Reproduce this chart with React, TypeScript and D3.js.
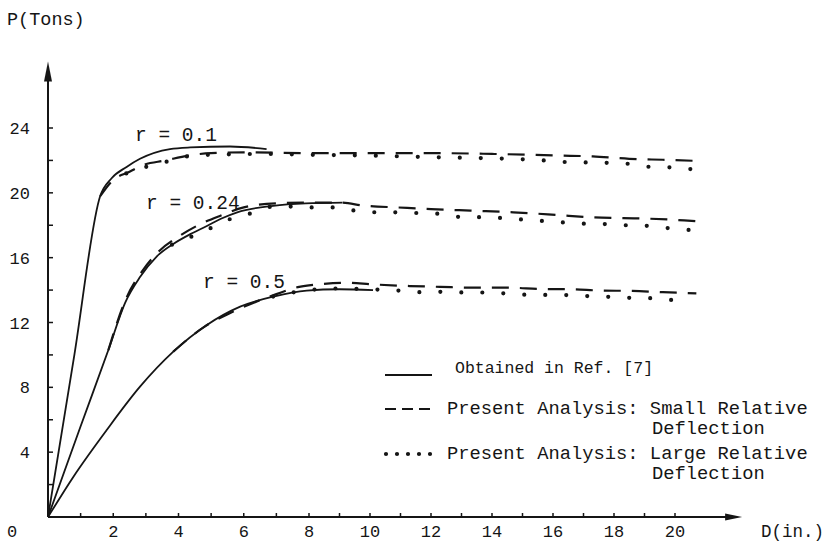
import * as d3 from 'd3'

const W = 831
const H = 541
const FONT = '"Liberation Mono", "DejaVu Sans Mono", monospace'
const INK = '#151515'

// r = 0.1
const R01_REF_D = [0, 0.8, 1.6, 1.95, 2.41, 2.82, 3.74, 4.36, 5.58, 6.7]
const R01_REF_P = [0, 9.9, 19.8, 20.9, 21.6, 22.1, 22.7, 22.8, 22.86, 22.7]
const R01_SMALL_D = [1.6, 2.0, 2.5, 2.9, 3.6, 4.3, 5.0, 6.0, 8.0, 10.0, 12.0, 14.0, 15.2, 16.2, 17.3, 18.5, 19.6, 20.75]
const R01_SMALL_P = [19.8, 20.8, 21.3, 21.7, 22.0, 22.3, 22.45, 22.5, 22.45, 22.45, 22.45, 22.4, 22.35, 22.3, 22.25, 22.1, 22.04, 21.97]
const R01_LARGE_D = [2.4, 3.0, 3.6, 4.1, 5.0, 6.7, 8.0, 10.0, 12.0, 14.5, 15.7, 16.4, 17.3, 18.4, 19.2, 20.0, 20.75]
const R01_LARGE_P = [21.2, 21.6, 21.9, 22.2, 22.35, 22.4, 22.35, 22.3, 22.2, 22.1, 22.0, 21.9, 21.87, 21.8, 21.6, 21.56, 21.4]

// r = 0.24
const R024_REF_D = [0, 1.0, 1.85, 2.36, 2.82, 3.33, 3.84, 4.36, 4.87, 5.3, 5.8, 6.9, 7.9, 9.1]
const R024_REF_P = [0, 5.6, 10.3, 13.2, 14.8, 16.07, 16.85, 17.45, 17.95, 18.4, 18.8, 19.2, 19.35, 19.4]
const R024_SMALL_D = [1.85, 2.4, 2.9, 3.4, 4.0, 4.7, 5.3, 6.0, 7.0, 8.0, 9.0, 9.85, 10.9, 12.0, 13.3, 14.7, 16.1, 17.2, 18.3, 19.2, 20.3, 20.7]
const R024_SMALL_P = [10.3, 13.5, 15.2, 16.4, 17.3, 18.1, 18.6, 19.1, 19.35, 19.4, 19.4, 19.2, 19.1, 19.0, 18.9, 18.8, 18.64, 18.5, 18.44, 18.4, 18.3, 18.25]
const R024_LARGE_D = [3.8, 4.4, 5.07, 5.74, 6.25, 6.9, 7.5, 8.0, 8.9, 9.5, 10.2, 10.9, 11.6, 12.3, 13.05, 13.8, 14.6, 15.4, 16.1, 17.0, 17.7, 18.4, 19.1, 19.9, 20.5]
const R024_LARGE_P = [16.8, 17.3, 17.9, 18.5, 18.75, 19.15, 19.15, 19.1, 19.1, 18.9, 18.8, 18.8, 18.75, 18.7, 18.5, 18.5, 18.4, 18.3, 18.2, 18.1, 18.07, 18.0, 17.96, 17.8, 17.7]

// r = 0.5
const R05_REF_D = [0, 0.78, 1.8, 2.82, 3.84, 4.87, 5.89, 6.91, 7.93, 9.0, 10.1]
const R05_REF_P = [0, 2.49, 5.37, 8.04, 10.2, 11.85, 12.98, 13.6, 13.97, 14.05, 14.0]
const R05_SMALL_D = [3.84, 4.8, 5.6, 6.4, 7.0, 7.7, 8.3, 9.2, 10.1, 11.3, 12.3, 13.4, 14.5, 15.6, 16.6, 17.6, 18.6, 19.6, 20.7]
const R05_SMALL_P = [10.2, 11.75, 12.6, 13.3, 13.75, 14.2, 14.35, 14.45, 14.35, 14.25, 14.2, 14.15, 14.15, 14.07, 14.05, 13.97, 13.95, 13.87, 13.8]
const R05_LARGE_D = [6.9, 8.0, 9.0, 10.0, 10.6, 11.1, 11.9, 12.4, 13.1, 13.85, 14.6, 15.4, 16.2, 17.0, 17.5, 18.2, 18.75, 19.2, 19.6, 20.1, 20.5]
const R05_LARGE_P = [13.6, 14.0, 14.1, 14.05, 14.0, 13.95, 13.85, 13.9, 13.85, 13.85, 13.77, 13.7, 13.7, 13.64, 13.6, 13.56, 13.5, 13.5, 13.44, 13.35, 13.3]

const CURVE_LABELS = ['r = 0.1', 'r = 0.24', 'r = 0.5']
const LEGEND_LABELS = [
  ['Obtained in Ref. [7]'],
  ['Present Analysis: Small Relative', 'Deflection'],
  ['Present Analysis: Large Relative', 'Deflection'],
]
const X_LABELS = [2, 4, 6, 8, 10, 12, 14, 16, 18, 20]
const Y_LABELS = [4, 8, 12, 16, 20, 24]
const X_TICKS = d3.range(1, 21)
const Y_TICKS = d3.range(2, 25, 2)

const zip = (ds: number[], ps: number[]) => ds.map((d, i) => [d, ps[i]] as [number, number])

const SERIES = [
  { kind: 'ref', pts: zip(R01_REF_D, R01_REF_P) },
  { kind: 'small', pts: zip(R01_SMALL_D, R01_SMALL_P) },
  { kind: 'large', pts: zip(R01_LARGE_D, R01_LARGE_P) },
  { kind: 'ref', pts: zip(R024_REF_D, R024_REF_P) },
  { kind: 'small', pts: zip(R024_SMALL_D, R024_SMALL_P) },
  { kind: 'large', pts: zip(R024_LARGE_D, R024_LARGE_P) },
  { kind: 'ref', pts: zip(R05_REF_D, R05_REF_P) },
  { kind: 'small', pts: zip(R05_SMALL_D, R05_SMALL_P) },
  { kind: 'large', pts: zip(R05_LARGE_D, R05_LARGE_P) },
]

const STYLE: Record<string, any> = {
  ref: { strokeWidth: 1.8 },
  small: { strokeWidth: 2.2, strokeDasharray: '17 11' },
  large: { strokeWidth: 4.2, strokeDasharray: '0 21', strokeLinecap: 'round' },
}

export default function App() {
  // scanned figure: the axis is slightly stretched below D = 8
  const x = d3.scaleLinear().domain([0, 8, 20]).range([48, 309, 675])
  const y = d3.scaleLinear().domain([0, 24]).range([517, 128])
  const line = d3
    .line<[number, number]>()
    .x((d) => x(d[0]))
    .y((d) => y(d[1]))
    .curve(d3.curveMonotoneX)

  const x0 = x(0)
  const y0 = y(0)
  const xEnd = x(22.2)
  const yEnd = y(28.1)

  const legX = 385
  const legRows = [373, 414, 459]
  const textX = 447

  return (
    <svg
      width={W}
      height={H}
      viewBox={`0 0 ${W} ${H}`}
      style={{ position: 'absolute', left: 0, top: 0, background: '#fff' }}
      fontFamily={FONT}
      fill={INK}
    >
      <rect width={W} height={H} fill="#fff" />

      {/* axes */}
      <line x1={x0} y1={y0} x2={xEnd - 8} y2={y0} stroke={INK} strokeWidth={2} />
      <polygon points={`${xEnd},${y0} ${xEnd - 17},${y0 - 3.5} ${xEnd - 17},${y0 + 3.5}`} fill={INK} />
      <line x1={x0} y1={y0} x2={x0} y2={yEnd + 8} stroke={INK} strokeWidth={2} />
      <polygon points={`${x0},${yEnd} ${x0 - 4},${yEnd + 20} ${x0 + 4},${yEnd + 20}`} fill={INK} />

      {X_TICKS.map((t) => (
        <line key={`xt${t}`} x1={x(t)} x2={x(t)} y1={y0} y2={y0 - 4} stroke={INK} strokeWidth={1.5} />
      ))}
      {Y_TICKS.map((t) => (
        <line key={`yt${t}`} x1={x0} x2={x0 + 5} y1={y(t)} y2={y(t)} stroke={INK} strokeWidth={1.5} />
      ))}

      {X_LABELS.map((t) => (
        <text key={`xl${t}`} x={x(t)} y={537} fontSize={17} textAnchor="middle">
          {t}
        </text>
      ))}
      {Y_LABELS.map((t) => (
        <text key={`yl${t}`} x={30} y={y(t) + 6} fontSize={17} textAnchor="end">
          {t}
        </text>
      ))}
      <text x={7} y={537} fontSize={17}>0</text>

      <text x={7} y={25} fontSize={18.5}>P(Tons)</text>
      <text x={761} y={537} fontSize={17.5}>D(in.)</text>

      {/* curves */}
      {SERIES.map((s, i) => (
        <path key={i} d={line(s.pts) || ''} fill="none" stroke={INK} {...STYLE[s.kind]} />
      ))}

      <text x={135} y={141} fontSize={19.5}>{CURVE_LABELS[0]}</text>
      <text x={146} y={209} fontSize={19.5}>{CURVE_LABELS[1]}</text>
      <text x={203} y={288} fontSize={19.5}>{CURVE_LABELS[2]}</text>

      {/* legend */}
      <line x1={legX} x2={legX + 47} y1={legRows[0] + 2} y2={legRows[0] + 2} stroke={INK} strokeWidth={1.8} />
      <line
        x1={legX}
        x2={legX + 47}
        y1={legRows[1] - 5}
        y2={legRows[1] - 5}
        stroke={INK}
        strokeWidth={2.2}
        strokeDasharray="11 6"
      />
      <line
        x1={legX + 1}
        x2={legX + 46}
        y1={legRows[2] - 5}
        y2={legRows[2] - 5}
        stroke={INK}
        strokeWidth={4.2}
        strokeLinecap="round"
        strokeDasharray="0 11"
      />
      <text x={textX + 8} y={legRows[0]} fontSize={16.5}>{LEGEND_LABELS[0][0]}</text>
      {[1, 2].map((k) => (
        <g key={k}>
          <text x={textX} y={legRows[k]} fontSize={18.8}>{LEGEND_LABELS[k][0]}</text>
          <text x={652} y={legRows[k] + 20} fontSize={18.8}>{LEGEND_LABELS[k][1]}</text>
        </g>
      ))}
    </svg>
  )
}
